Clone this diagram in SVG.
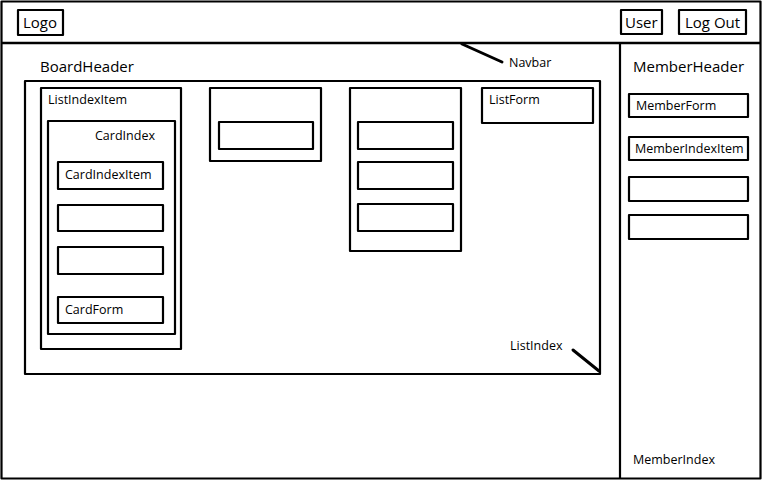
<svg xmlns="http://www.w3.org/2000/svg" width="763" height="481" viewBox="0 0 763 481">
<style>
.b{fill:#fff;stroke:#000;stroke-width:2.2;stroke-linejoin:round}
.t{font-family:"Open Sans","Liberation Sans",sans-serif;font-size:12.5px;fill:#000}
.h{font-family:"Open Sans","Liberation Sans",sans-serif;font-size:15px;fill:#000}
.p{stroke:#000;stroke-width:3;stroke-linecap:round;fill:none}
</style>
<rect width="763" height="481" fill="#fff"/>
<g id="frame"><rect class="b" x="1.5" y="1.5" width="759" height="477"/></g>
<g id="navbar">
<line x1="1.5" y1="43" x2="761" y2="43" stroke="#000" stroke-width="2.5"/>
<rect class="b" x="18" y="10" width="45" height="25"/><text class="h" x="23" y="28">Logo</text>
<rect class="b" x="621" y="10" width="41" height="24"/><text class="h" x="625" y="28">User</text>
<rect class="b" x="679" y="10" width="67" height="24"/><text class="h" x="685" y="28">Log Out</text>
</g>
<g id="memberpanel">
<line x1="620" y1="43" x2="620" y2="479" stroke="#000" stroke-width="2.2"/>
<text class="h" x="633" y="72">MemberHeader</text>
<rect class="b" x="629" y="94" width="119" height="23"/><text class="t" x="636" y="110">MemberForm</text>
<rect class="b" x="629" y="137" width="119" height="23"/><text class="t" x="635" y="153">MemberIndexItem</text>
<rect class="b" x="629" y="177" width="119" height="24"/>
<rect class="b" x="629" y="215" width="119" height="24"/>
<text class="t" x="633" y="464">MemberIndex</text>
</g>
<g id="boardheader"><text class="h" x="40" y="72">BoardHeader</text></g>
<g id="listindex">
<rect class="b" x="25" y="81" width="575" height="293"/>
<text class="t" x="510" y="350">ListIndex</text>
</g>
<g id="listindexitem">
<rect class="b" x="41" y="88" width="140" height="261"/>
<text class="t" x="48" y="104">ListIndexItem</text>
<rect class="b" x="48" y="121" width="127" height="213"/>
<text class="t" x="95" y="140">CardIndex</text>
<rect class="b" x="58" y="162" width="105" height="27"/><text class="t" x="65" y="179">CardIndexItem</text>
<rect class="b" x="58" y="205" width="105" height="26"/>
<rect class="b" x="58" y="247" width="105" height="27"/>
<rect class="b" x="58" y="297" width="105" height="26"/><text class="t" x="65" y="314">CardForm</text>
</g>
<g id="list2">
<rect class="b" x="210" y="88" width="111" height="73"/>
<rect class="b" x="219" y="122" width="94" height="27"/>
</g>
<g id="list3">
<rect class="b" x="350" y="88" width="111" height="163"/>
<rect class="b" x="358" y="122" width="95" height="27"/>
<rect class="b" x="358" y="162" width="95" height="27"/>
<rect class="b" x="358" y="204" width="95" height="27"/>
</g>
<g id="listform">
<rect class="b" x="482" y="88" width="111" height="35"/>
<text class="t" x="489" y="104">ListForm</text>
</g>
<g id="connectors">
<line class="p" x1="462" y1="44" x2="502" y2="62"/>
<line class="p" x1="573" y1="350" x2="599" y2="371"/>
</g>
<text class="t" x="509" y="67">Navbar</text>
</svg>
